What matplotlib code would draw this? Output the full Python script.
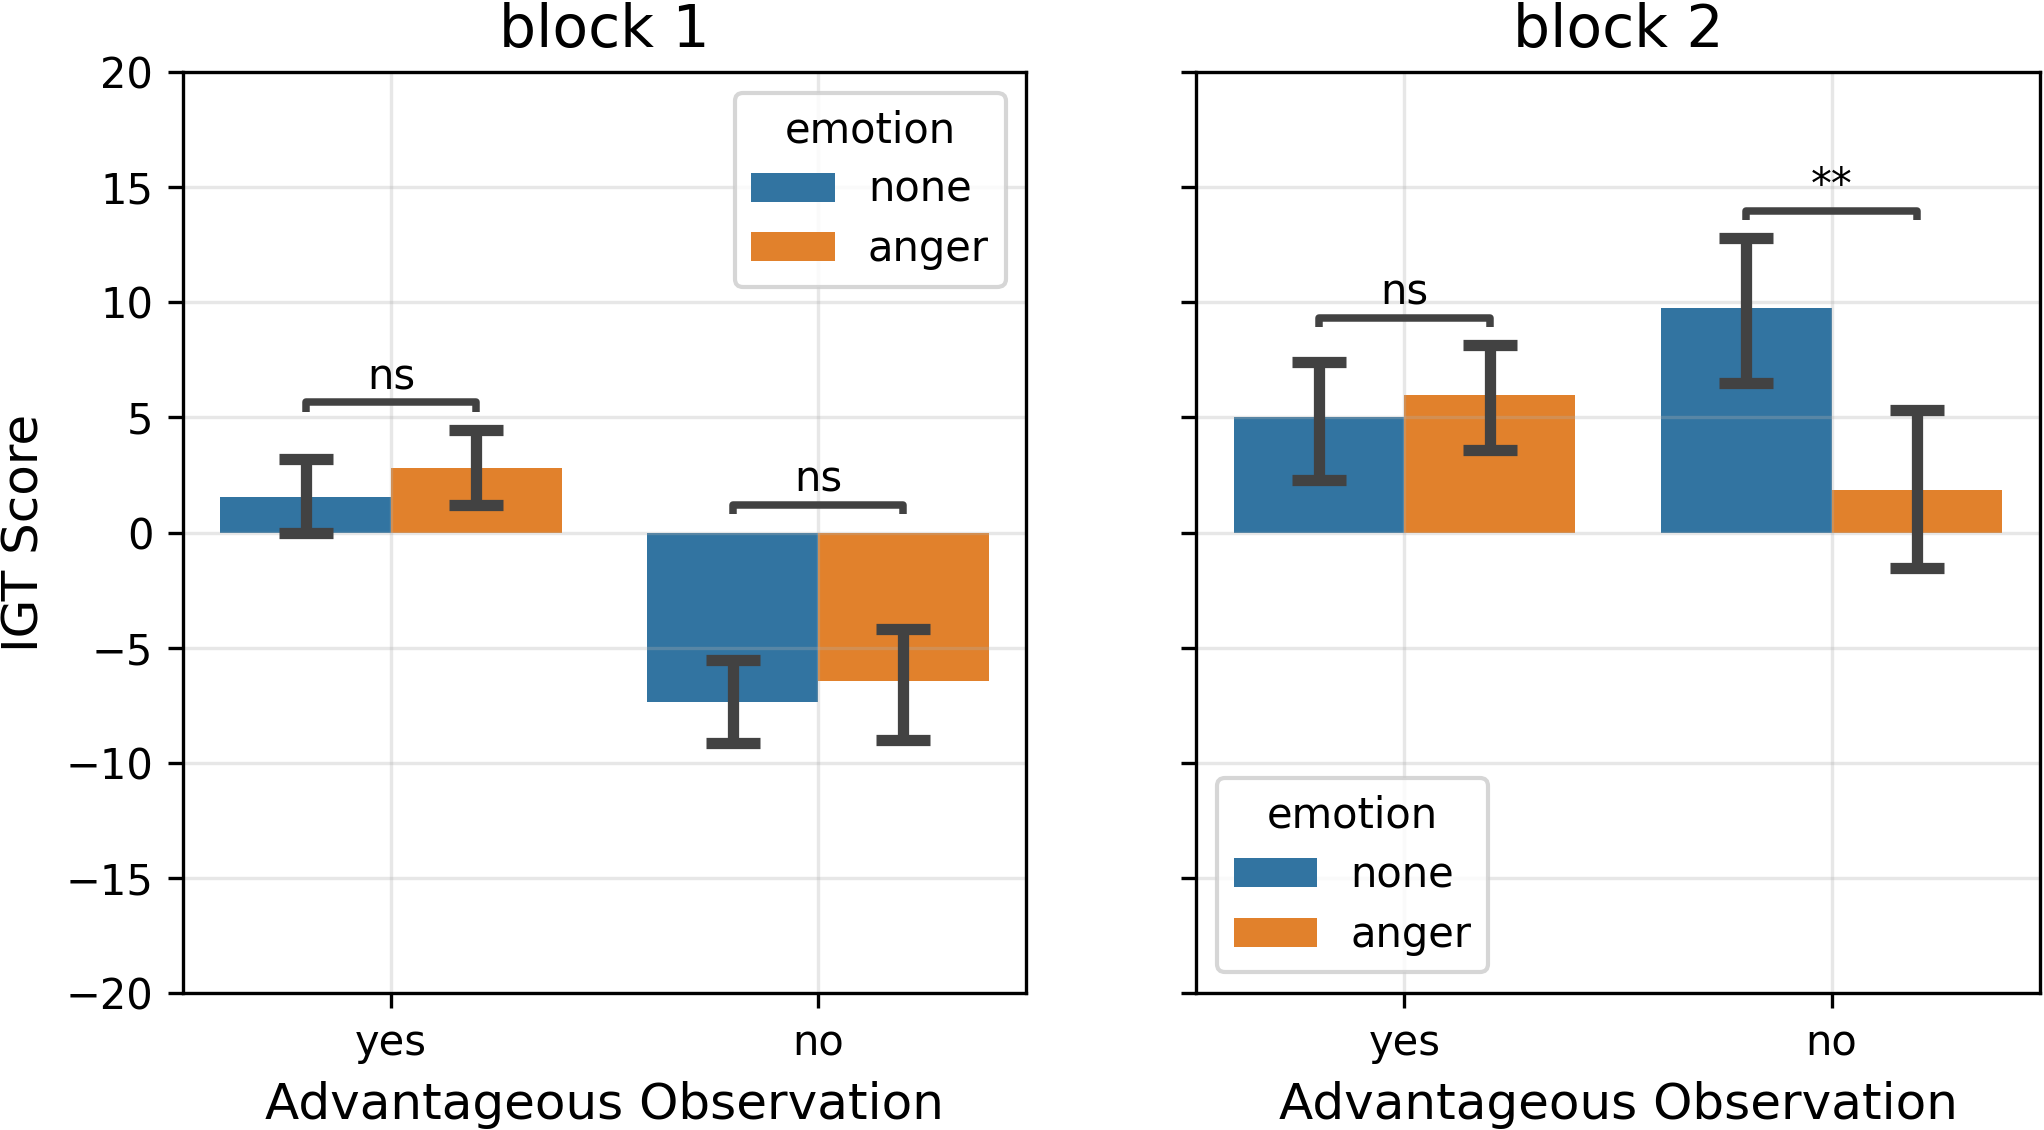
import numpy as np
import matplotlib
matplotlib.use('Agg')
import matplotlib.pyplot as plt

# data
observation = ['yes', 'no']
emotions = ['none', 'anger']
blocks = ['block 1', 'block 2']

b1_none = [1.56, -7.37]
b1_anger = [2.80, -6.45]
b1_none_lo = [0.0, -9.15]
b1_none_hi = [3.20, -5.53]
b1_anger_lo = [1.18, -8.99]
b1_anger_hi = [4.45, -4.19]
b1_sig = ['ns', 'ns']

b2_none = [5.03, 9.76]
b2_anger = [5.97, 1.84]
b2_none_lo = [2.30, 6.48]
b2_none_hi = [7.40, 12.77]
b2_anger_lo = [3.58, -1.53]
b2_anger_hi = [8.12, 5.33]
b2_sig = ['ns', '**']

colors = ['#3274a1', '#e1812c']
err_color = '#424242'

plt.rcParams['font.family'] = 'DejaVu Sans'
plt.rcParams['font.size'] = 10

fig, axes = plt.subplots(1, 2, figsize=(2044 / 300, 1130 / 300), dpi=300, sharey=True)
fig.subplots_adjust(left=0.0893, right=0.998, bottom=0.121, top=0.9365, wspace=0.201)

panels = [
    (b1_none, b1_anger, b1_none_lo, b1_none_hi, b1_anger_lo, b1_anger_hi, b1_sig),
    (b2_none, b2_anger, b2_none_lo, b2_none_hi, b2_anger_lo, b2_anger_hi, b2_sig),
]

x = np.arange(len(observation))
w = 0.4
for i, ax in enumerate(axes):
    none, anger, n_lo, n_hi, a_lo, a_hi, sig = panels[i]
    means = [np.array(none), np.array(anger)]
    los = [np.array(n_lo), np.array(a_lo)]
    his = [np.array(n_hi), np.array(a_hi)]
    for j, emo in enumerate(emotions):
        pos = x - w / 2 + j * w
        ax.bar(pos, means[j], width=w, color=colors[j], label=emo)
        ax.errorbar(pos, means[j], yerr=[means[j] - los[j], his[j] - means[j]],
                    fmt='none', ecolor=err_color, elinewidth=2.7, capsize=6.4,
                    capthick=2.7, zorder=3)
    # significance brackets
    for k in range(len(observation)):
        top = max(0, n_hi[k], a_hi[k]) + 0.8
        x1, x2 = x[k] - w / 2, x[k] + w / 2
        ax.plot([x1, x1, x2, x2], [top, top + 0.4, top + 0.4, top],
                color=err_color, lw=1.8, solid_joinstyle='round',
                solid_capstyle='butt', zorder=3)
        ax.annotate(sig[k], xy=(x[k], top + 0.4), xytext=(0, 1),
                    textcoords='offset points', ha='center', va='bottom',
                    fontsize=10)
    ax.set_xticks(x)
    ax.set_xticklabels(observation)
    ax.set_xlim(-0.488, 1.488)
    ax.set_ylim(-20, 20)
    ax.set_yticks(np.arange(-20, 21, 5))
    ax.grid(True, color='#b0b0b0', alpha=0.3, lw=0.8)
    ax.set_xlabel('Advantageous Observation', fontsize=12)
    ax.set_title(blocks[i], fontsize=14)

axes[0].set_ylabel('IGT Score', fontsize=12)
axes[0].legend(title='emotion', loc='upper right', fontsize=10, title_fontsize=10,
               labelspacing=0.42)
axes[1].legend(title='emotion', loc='lower left', fontsize=10, title_fontsize=10,
               labelspacing=0.42)

plt.savefig('out.png', dpi=300)
